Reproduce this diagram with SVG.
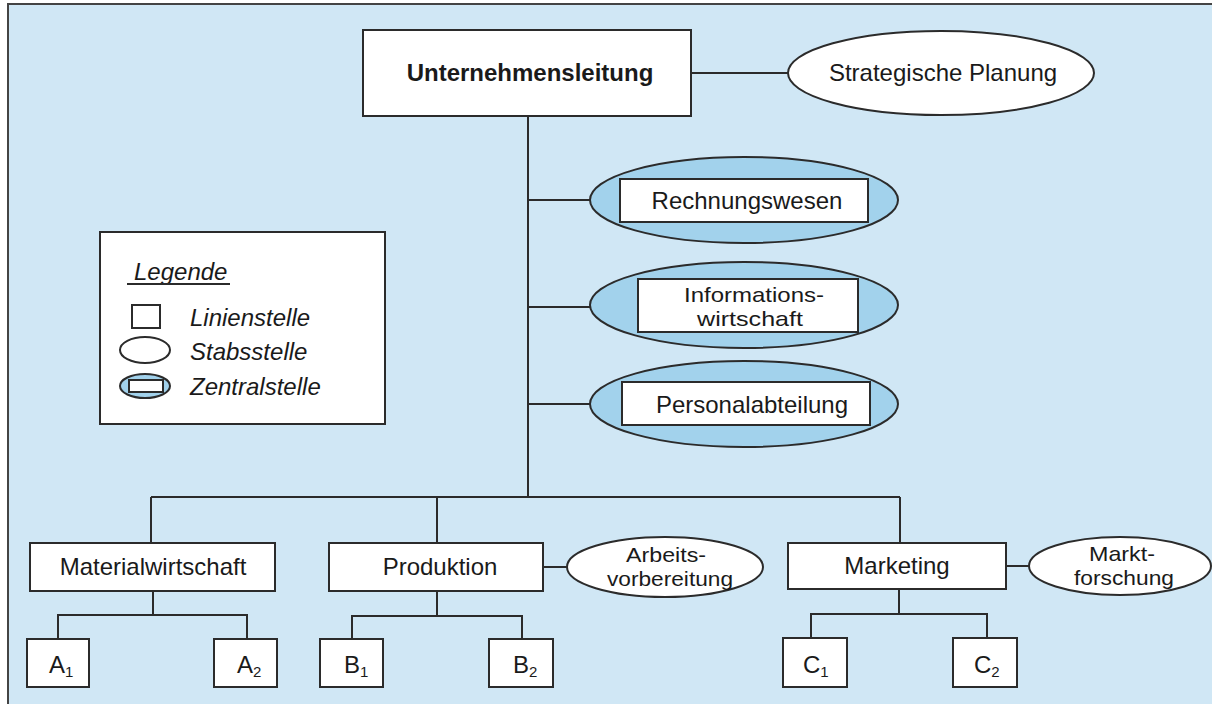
<svg xmlns="http://www.w3.org/2000/svg" width="1212" height="704" viewBox="0 0 1212 704">
<style>
.ln{stroke:#2b2b2b;stroke-width:2;fill:none}
.box{fill:#ffffff;stroke:#2b2b2b;stroke-width:2}
.zen{fill:#a2d2ec;stroke:#2b2b2b;stroke-width:2}
.t{font-family:"Liberation Sans",Arial,sans-serif;font-size:24px;fill:#1a1a1a}
.two{font-size:21px}
.m{text-anchor:middle}
.b{font-weight:bold;font-size:24px}
.i{font-style:italic}
.sub{font-size:15px}
</style>
<rect x="8" y="4" width="1240" height="740" fill="#d0e7f5" stroke="#444" stroke-width="2"/>
<g id="connectors">
<line class="ln" x1="691" y1="73" x2="788" y2="73"/>
<line class="ln" x1="528" y1="116" x2="528" y2="497"/>
<line class="ln" x1="528" y1="200" x2="590" y2="200"/>
<line class="ln" x1="528" y1="307" x2="591" y2="307"/>
<line class="ln" x1="528" y1="404" x2="591" y2="404"/>
<line class="ln" x1="151" y1="497" x2="900" y2="497"/>
<line class="ln" x1="151" y1="497" x2="151" y2="543"/>
<line class="ln" x1="437" y1="497" x2="437" y2="543"/>
<line class="ln" x1="900" y1="497" x2="900" y2="543"/>
<line class="ln" x1="543" y1="567" x2="567" y2="567"/>
<line class="ln" x1="1006" y1="566" x2="1029" y2="566"/>
<polyline class="ln" points="153,591 153,615"/>
<polyline class="ln" points="58,639 58,615 247,615 247,639"/>
<polyline class="ln" points="437,591 437,616"/>
<polyline class="ln" points="352,639 352,616 522,616 522,639"/>
<polyline class="ln" points="899,589 899,614"/>
<polyline class="ln" points="811,638 811,614 987,614 987,638"/>
</g>
<g id="unternehmensleitung">
<rect class="box" x="363" y="30" width="328" height="86"/>
<text class="t b m" x="530" y="81">Unternehmensleitung</text>
</g>
<g id="strategische-planung">
<ellipse class="box" cx="941" cy="73" rx="153" ry="42"/>
<text class="t m" x="943" y="81">Strategische Planung</text>
</g>
<g id="rechnungswesen">
<ellipse class="zen" cx="744" cy="200" rx="154" ry="43"/>
<rect class="box" x="620" y="179" width="248" height="43"/>
<text class="t m" x="747" y="209">Rechnungswesen</text>
</g>
<g id="informationswirtschaft">
<ellipse class="zen" cx="744" cy="305" rx="154" ry="43"/>
<rect class="box" x="638" y="279" width="220" height="53"/>
<text class="t two m"><tspan x="754" y="302" textLength="140" lengthAdjust="spacingAndGlyphs">Informations-</tspan><tspan x="750" y="326" textLength="106" lengthAdjust="spacingAndGlyphs">wirtschaft</tspan></text>
</g>
<g id="personalabteilung">
<ellipse class="zen" cx="744" cy="404" rx="154" ry="43"/>
<rect class="box" x="622" y="382" width="248" height="43"/>
<text class="t m" x="752" y="413">Personalabteilung</text>
</g>
<g id="legende">
<rect class="box" x="100" y="232" width="285" height="192"/>
<text class="t i" x="134" y="280">Legende</text>
<line class="ln" x1="127" y1="284" x2="230" y2="284" stroke-width="1.5"/>
<rect class="box" x="132" y="305" width="28" height="23" stroke-width="1.5"/>
<text class="t i" x="190" y="326">Linienstelle</text>
<ellipse class="box" cx="145" cy="350" rx="25" ry="13" stroke-width="1.5"/>
<text class="t i" x="190" y="360">Stabsstelle</text>
<ellipse class="zen" cx="145" cy="386" rx="25" ry="12" stroke-width="1.5"/>
<rect class="box" x="129" y="380" width="34" height="12" stroke-width="1.5"/>
<text class="t i" x="190" y="395">Zentralstelle</text>
</g>
<g id="materialwirtschaft">
<rect class="box" x="30" y="543" width="245" height="48"/>
<text class="t m" x="153" y="575">Materialwirtschaft</text>
</g>
<g id="produktion">
<rect class="box" x="329" y="543" width="214" height="48"/>
<text class="t m" x="440" y="575">Produktion</text>
</g>
<g id="arbeitsvorbereitung">
<ellipse class="box" cx="665" cy="567" rx="98" ry="30"/>
<text class="t two m"><tspan x="666" y="562" textLength="80" lengthAdjust="spacingAndGlyphs">Arbeits-</tspan><tspan x="670" y="586" textLength="126" lengthAdjust="spacingAndGlyphs">vorbereitung</tspan></text>
</g>
<g id="marketing">
<rect class="box" x="788" y="543" width="218" height="46"/>
<text class="t m" x="897" y="574">Marketing</text>
</g>
<g id="marktforschung">
<ellipse class="box" cx="1120" cy="566" rx="91" ry="29"/>
<text class="t two m"><tspan x="1122" y="561" textLength="66" lengthAdjust="spacingAndGlyphs">Markt-</tspan><tspan x="1124" y="585" textLength="100" lengthAdjust="spacingAndGlyphs">forschung</tspan></text>
</g>
<g id="a1"><rect class="box" x="27" y="639" width="62" height="48"/><text class="t" x="49" y="673">A<tspan class="sub" dy="4">1</tspan></text></g>
<g id="a2"><rect class="box" x="214" y="639" width="63" height="48"/><text class="t" x="237" y="673">A<tspan class="sub" dy="4">2</tspan></text></g>
<g id="b1"><rect class="box" x="320" y="639" width="63" height="48"/><text class="t" x="344" y="673">B<tspan class="sub" dy="4">1</tspan></text></g>
<g id="b2"><rect class="box" x="489" y="639" width="64" height="48"/><text class="t" x="513" y="673">B<tspan class="sub" dy="4">2</tspan></text></g>
<g id="c1"><rect class="box" x="783" y="638" width="64" height="49"/><text class="t" x="803" y="673">C<tspan class="sub" dy="4">1</tspan></text></g>
<g id="c2"><rect class="box" x="953" y="638" width="64" height="49"/><text class="t" x="974" y="673">C<tspan class="sub" dy="4">2</tspan></text></g>
</svg>
